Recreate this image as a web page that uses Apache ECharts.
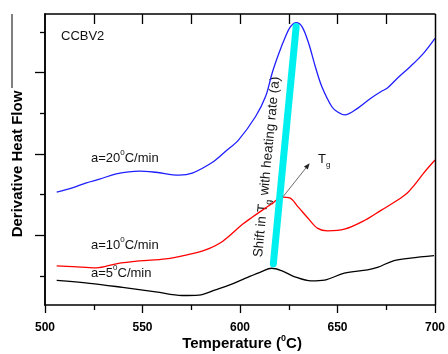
<!DOCTYPE html>
<html><head><meta charset="utf-8">
<script src="https://cdn.jsdelivr.net/npm/echarts@6/dist/echarts.min.js"></script>
<style>html,body{margin:0;padding:0;background:#fff}#c{width:448px;height:354px}</style>
</head><body><div id="c"></div>
<script>
// Temperature (°C) and derivative heat flow (arbitrary units)
const blueT = [506,514.4,521.2,528,536.5,548.3,556.8,568.7,575.5,585.7,592.5,599.2,608,613.1,616.5,620,623.3,625.9,628.8,631.8,635.2,638.6,642,647.1,650.1,653.7,660.3,667.1,672.2,675.6,680.7,687.4,694.2,700];
const blueV = [2.06,2.17,2.29,2.38,2.51,2.58,2.55,2.48,2.53,2.79,3.06,3.34,3.92,4.41,4.99,5.48,5.88,6.13,6.23,6.13,5.72,5.15,4.65,4.16,4.03,3.96,4.12,4.37,4.53,4.62,4.86,5.15,5.48,5.84];
const redT = [506,514.4,526.3,536.5,548.3,561.9,573.8,582.3,591,601.3,606.4,611.5,616.5,621.6,625.5,629.8,634.9,639.9,645,653.5,664,672.5,680.7,685.8,689.5,694.2,700];
const redV = [0.25,0.23,0.20,0.30,0.37,0.42,0.53,0.64,0.85,1.27,1.45,1.62,1.78,1.94,1.92,1.70,1.42,1.17,1.11,1.15,1.37,1.62,1.86,2.04,2.24,2.53,2.85];
const blackT = [506,522.9,539.8,556.8,570.4,578.9,587.4,595.8,602.6,611.1,616.2,621.3,628.1,636.5,643.4,653.5,665.4,670.5,679,687.4,699.5];
const blackV = [-0.11,-0.18,-0.28,-0.39,-0.48,-0.47,-0.34,-0.20,-0.06,0.11,0.19,0.13,-0.02,-0.12,-0.10,0.07,0.15,0.21,0.38,0.44,0.50];
const shiftLineT = [617.1, 628.8];
const shiftLineV = [0.30, 6.13];
const tgArrowT = [622.1, 635.7];
const tgArrowV = [1.95, 2.77];
const xMajorTicks = [500, 550, 600, 650, 700];
const xMinorTicks = [525, 575, 625, 675];
const xTopTicks = [525, 550, 575, 600, 625, 650, 675];
const yMajorTicks = [1, 3, 5];
const yMinorTicks = [0, 2, 4, 6];
const yMin = -0.713, yMax = 6.44;

const FF = '"Liberation Sans", Arial, sans-serif';
const zip = (a, b) => a.map((v, i) => [v, b[i]]);
const chart = echarts.init(document.getElementById('c'));
const lineSeries = (name, T, V, color) => ({
  name, type: 'line', data: zip(T, V), smooth: 0.35, showSymbol: false, symbol: 'none',
  lineStyle: {color, width: 1.3}, xAxisIndex: 0, yAxisIndex: 0, z: 3
});
const yAx = (ticks, len) => ({
  type: 'value', min: yMin, max: yMax, position: 'left',
  axisLine: {show: true, onZero: false, lineStyle: {color: '#000', width: 1.5}},
  axisTick: {show: true, inside: false, length: len, customValues: ticks, lineStyle: {color: '#000', width: 1.3}},
  splitLine: {show: false}, axisLabel: {show: false}
});
// vertical segments (x ticks and right frame) drawn through the axis scales
const segSeries = (rows, width) => ({
  type: 'custom', xAxisIndex: 0, yAxisIndex: 0, clip: false, z: 6,
  data: rows,
  renderItem: (params, api) => {
    const p = api.coord([api.value(0), api.value(1)]);
    const x = Math.round(p[0]) + 0.5;
    const len = api.value(2);
    return {type: 'line', shape: {x1: x, y1: p[1], x2: x, y2: p[1] + len}, style: {stroke: '#000', lineWidth: width}};
  }
});
chart.setOption({
  animation: false,
  grid: {left: 45, right: 10, top: 14, bottom: 49},
  xAxis: [
    {type: 'value', min: 500, max: 700, interval: 50, position: 'bottom',
     axisLine: {show: true, onZero: false, lineStyle: {color: '#000', width: 1.5}},
     axisTick: {show: false}, splitLine: {show: false},
     axisLabel: {show: true, color: '#000', fontFamily: FF, fontWeight: 'bold', fontSize: 12, margin: 17}},
    {type: 'value', min: 500, max: 700, interval: 50, position: 'top',
     axisLine: {show: true, onZero: false, lineStyle: {color: '#000', width: 1.5}},
     axisTick: {show: false}, splitLine: {show: false}, axisLabel: {show: false}}
  ],
  yAxis: [yAx(yMajorTicks, 10), yAx(yMinorTicks, 5)],
  series: [
    lineSeries('a=5', blackT, blackV, '#000000'),
    lineSeries('a=10', redT, redV, '#ff0000'),
    lineSeries('a=20', blueT, blueV, '#1f1fff'),
    {type: 'line', data: zip(shiftLineT, shiftLineV), showSymbol: false, symbol: 'none',
     lineStyle: {color: '#00f0f0', width: 7, cap: 'round'}, z: 4, xAxisIndex: 0, yAxisIndex: 0},
    {type: 'custom', xAxisIndex: 0, yAxisIndex: 0, z: 5, silent: true,
     data: [[tgArrowT[0], tgArrowV[0], tgArrowT[1], tgArrowV[1]]],
     renderItem: (params, api) => {
       const a = api.coord([api.value(0), api.value(1)]);
       const b = api.coord([api.value(2), api.value(3)]);
       const ang = Math.atan2(b[1] - a[1], b[0] - a[0]);
       const L = 6, W = 2.5;
       const bx = b[0] - L * Math.cos(ang), by = b[1] - L * Math.sin(ang);
       return {type: 'group', children: [
         {type: 'line', shape: {x1: a[0], y1: a[1], x2: bx, y2: by}, style: {stroke: '#444', lineWidth: 0.8}},
         {type: 'polygon', shape: {points: [[b[0], b[1]],
           [bx - W * Math.sin(ang), by + W * Math.cos(ang)],
           [bx + W * Math.sin(ang), by - W * Math.cos(ang)]]}, style: {fill: '#222'}}
       ]};
     }},
    segSeries(xMajorTicks.map(v => [v, yMin, 8]), 1.3),
    segSeries(xMinorTicks.map(v => [v, yMin, 5]), 1.3),
    segSeries(xTopTicks.map(v => [v, yMax, 10]), 1.3),
    segSeries([[700, yMax, 291]], 1.5)
  ],
  graphic: [
    {type: 'line', shape: {x1: 12, y1: 14, x2: 12, y2: 88}, style: {stroke: '#000', lineWidth: 1}},
    {type: 'text', x: 61, y: 36, style: {text: 'CCBV2', font: '13px ' + FF, fill: '#111', verticalAlign: 'middle'}},
    {type: 'text', x: 91, y: 158, style: {text: 'a=20{s|0}C/min', font: '13px ' + FF, fill: '#111', verticalAlign: 'middle', lineHeight: 18,
      rich: {s: {fontSize: 8, fontFamily: FF, verticalAlign: 'top', lineHeight: 18, fill: '#111'}}}},
    {type: 'text', x: 91, y: 245, style: {text: 'a=10{s|0}C/min', font: '13px ' + FF, fill: '#111', verticalAlign: 'middle', lineHeight: 18,
      rich: {s: {fontSize: 8, fontFamily: FF, verticalAlign: 'top', lineHeight: 18, fill: '#111'}}}},
    {type: 'text', x: 91, y: 273, style: {text: 'a=5{s|0}C/min', font: '13px ' + FF, fill: '#111', verticalAlign: 'middle', lineHeight: 18,
      rich: {s: {fontSize: 8, fontFamily: FF, verticalAlign: 'top', lineHeight: 18, fill: '#111'}}}},
    {type: 'text', x: 267, y: 167, rotation: 1.475, style: {text: 'Shift in T{g|g} with heating rate (a)', font: '13.5px ' + FF, fill: '#111',
      align: 'center', verticalAlign: 'middle', lineHeight: 20,
      rich: {g: {fontSize: 9, fontFamily: FF, verticalAlign: 'bottom', lineHeight: 20, fill: '#111'}}}},
    {type: 'text', x: 318, y: 159, style: {text: 'T{g|g}', font: '13px ' + FF, fill: '#111', verticalAlign: 'middle', lineHeight: 20,
      rich: {g: {fontSize: 8, fontFamily: FF, verticalAlign: 'bottom', lineHeight: 20, fill: '#111'}}}},
    {type: 'text', x: 242, y: 344, style: {text: 'Temperature ({s|0}C)', font: 'bold 15px ' + FF, fill: '#000', align: 'center', verticalAlign: 'middle', lineHeight: 20,
      rich: {s: {fontSize: 9, fontWeight: 'bold', fontFamily: FF, verticalAlign: 'top', lineHeight: 20, fill: '#000'}}}},
    {type: 'text', x: 18, y: 164, rotation: Math.PI / 2, style: {text: 'Derivative Heat Flow', font: 'bold 15px ' + FF, fill: '#000', align: 'center', verticalAlign: 'middle'}}
  ]
});
</script></body></html>
